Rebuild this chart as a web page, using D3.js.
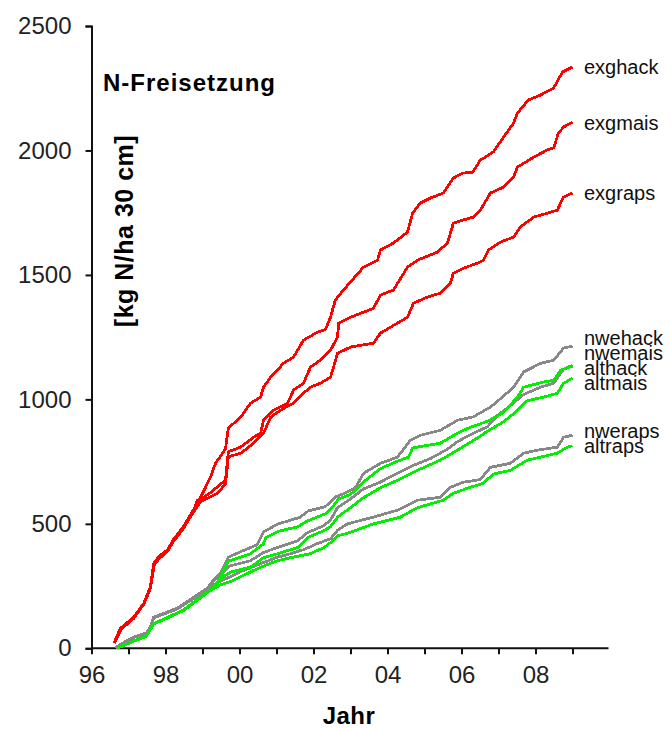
<!DOCTYPE html>
<html><head><meta charset="utf-8">
<script src="https://cdn.jsdelivr.net/npm/d3@7"></script>
<style>
body{margin:0;background:#fff}
text{font-family:"Liberation Sans",Arial,sans-serif}
</style></head>
<body><svg id="c" width="671" height="729"></svg>
<script>
// ---------- data ----------
const xTickYears = [1996,1997,1998,1999,2000,2001,2002,2003,2004,2005,2006,2007,2008,2009];
const xTickLabels = {1996:"96",1998:"98",2000:"00",2002:"02",2004:"04",2006:"06",2008:"08"};
const yTicks = [0,500,1000,1500,2000,2500];
const seriesNames = ["exghack","exgmais","exgraps","nwehack","nwemais","nweraps","althack","altmais","altraps"];

const exghack = [[1996.62,25],[1996.78,80],[1997.14,125],[1997.41,180],[1997.59,245],[1997.68,340],[1997.81,368],[1998.05,395],[1998.22,438],[1998.49,490],[1998.76,558],
 [1998.95,607],[1999.22,688],[1999.35,743],[1999.62,800],[1999.70,885],[2000.03,928],[2000.30,985],[2000.57,1009],[2000.65,1049],[2000.84,1089],[2001.19,1145],[2001.46,1170],[2001.73,1238],[2002.11,1270],[2002.32,1280],[2002.46,1330],[2002.59,1399],[2002.81,1439],[2003.35,1531],[2003.73,1559],[2003.81,1600],[2004.16,1628],[2004.54,1672],[2004.68,1748],[2004.89,1789],[2005.16,1809],[2005.51,1829],[2005.78,1889],[2006.03,1909],[2006.30,1913],[2006.51,1961],[2006.86,1994],[2007.14,2054],[2007.41,2110],[2007.51,2150],[2007.81,2203],[2008.14,2223],[2008.49,2251],[2008.73,2315],[2009.00,2335]];
const exgmais = [[1996.62,22],[1996.80,78],[1997.14,120],[1997.41,176],[1997.59,240],[1997.68,335],[1997.81,360],[1998.05,392],[1998.22,430],[1998.49,482],[1998.76,552],
 [1998.86,595],[1998.95,600],[1999.22,625],[1999.49,660],[1999.62,675],[1999.70,790],[2000.03,808],[2000.38,848],[2000.57,864],[2000.65,916],[2000.92,957],[2001.30,985],[2001.46,1037],[2001.73,1065],[2001.92,1130],[2002.19,1158],[2002.46,1198],[2002.65,1250],[2002.68,1306],[2003.00,1330],[2003.35,1350],[2003.62,1366],[2003.81,1419],[2004.16,1439],[2004.54,1531],[2004.81,1559],[2005.35,1592],[2005.62,1628],[2005.78,1708],[2006.03,1720],[2006.32,1732],[2006.51,1760],[2006.78,1829],[2007.14,1853],[2007.41,1893],[2007.51,1933],[2007.95,1973],[2008.32,2002],[2008.49,2010],[2008.62,2070],[2008.76,2094],[2009.00,2114]];
const exgraps = [[1996.62,20],[1996.80,75],[1997.14,122],[1997.41,178],[1997.59,242],[1997.70,338],[1997.84,362],[1998.05,388],[1998.22,432],[1998.49,485],[1998.76,548],
 [1998.95,590],[1999.41,623],[1999.62,660],[1999.70,770],[2000.03,783],[2000.38,824],[2000.65,864],[2000.84,928],[2001.11,957],[2001.46,985],[2001.73,1025],[2001.92,1049],[2002.19,1065],[2002.46,1089],[2002.65,1185],[2003.00,1210],[2003.62,1226],[2003.81,1266],[2004.08,1290],[2004.54,1330],[2004.70,1386],[2005.08,1411],[2005.43,1427],[2005.70,1467],[2005.78,1507],[2006.05,1527],[2006.43,1547],[2006.59,1559],[2006.73,1600],[2007.05,1632],[2007.41,1652],[2007.59,1692],[2007.95,1732],[2008.32,1748],[2008.59,1760],[2008.68,1789],[2008.76,1813],[2009.00,1829]];

const nwehack = [[1996.65,3],[1996.97,32],[1997.14,45],[1997.48,62],[1997.59,84],[1997.68,125],[1997.95,140],[1998.32,162],[1998.76,205],[1999.14,243],[1999.30,275],[1999.49,301],
 [1999.70,366],[2000.03,388],[2000.48,416],[2000.65,468],[2001.05,500],[2001.63,526],[2001.86,552],[2002.32,569],[2002.59,608],[2002.92,628],[2003.13,645],[2003.36,704],[2003.81,743],[2004.27,768],[2004.62,836],[2004.89,856],[2005.43,876],[2005.89,916],[2006.32,930],[2006.78,969],[2006.97,992],[2007.41,1049],[2007.68,1110],[2008.14,1145],[2008.49,1157],[2008.76,1206],[2009.00,1214]];
const nwemais = [[1996.65,3],[1996.97,30],[1997.14,44],[1997.48,60],[1997.59,82],[1997.68,122],[1997.95,137],[1998.32,158],[1998.76,200],[1999.14,238],[1999.30,270],[1999.49,296],
 [1999.72,330],[2000.30,352],[2000.65,385],[2001.03,405],[2001.57,432],[2001.84,465],[2002.27,492],[2002.46,515],[2002.65,565],[2003.00,600],[2003.35,640],[2003.81,668],[2004.27,703],[2004.70,735],[2005.16,762],[2005.62,800],[2005.89,830],[2006.24,858],[2006.70,890],[2006.97,935],[2007.32,975],[2007.68,1020],[2008.14,1049],[2008.49,1065],[2008.76,1122],[2009.00,1137]];
const nweraps = [[1996.65,3],[1996.97,31],[1997.14,44],[1997.48,61],[1997.59,83],[1997.68,123],[1997.95,138],[1998.32,160],[1998.76,202],
 [1999.14,235],[1999.30,255],[1999.49,270],[1999.76,288],[2000.11,313],[2000.57,340],[2001.03,366],[2001.38,380],[2001.73,396],[2002.11,421],[2002.46,440],[2002.65,474],[2002.92,500],[2003.62,527],[2004.27,555],[2004.81,595],[2005.43,607],[2005.70,647],[2006.05,667],[2006.51,678],[2006.78,727],[2007.32,743],[2007.68,784],[2008.05,796],[2008.59,808],[2008.76,848],[2009.00,856]];

const althack = [[1996.70,0],[1997.14,30],[1997.48,50],[1997.68,100],[1998.00,120],[1998.49,155],[1998.90,200],[1999.30,245],[1999.49,285],
 [1999.70,350],[2000.03,366],[2000.30,380],[2000.65,420],[2000.71,445],[2001.05,470],[2001.57,488],[2001.84,512],[2002.32,540],[2002.46,558],[2002.68,600],[2003.00,618],[2003.35,668],[2003.81,722],[2004.27,752],[2004.57,768],[2004.68,805],[2005.43,824],[2005.89,864],[2006.24,888],[2006.70,912],[2007.14,948],[2007.51,1009],[2007.68,1049],[2008.22,1070],[2008.49,1077],[2008.68,1117],[2009.00,1133]];
const altmais = [[1996.70,0],[1997.14,28],[1997.48,48],[1997.68,98],[1998.00,118],[1998.49,152],[1998.90,197],[1999.30,242],[1999.49,280],
 [1999.76,306],[2000.30,326],[2000.65,364],[2001.03,380],[2001.57,405],[2001.84,445],[2002.27,472],[2002.46,488],[2002.65,527],[2003.00,565],[2003.35,605],[2003.81,645],[2004.27,675],[2004.81,715],[2005.43,756],[2005.89,796],[2006.43,845],[2006.70,872],[2007.14,910],[2007.51,955],[2007.78,995],[2008.22,1009],[2008.59,1025],[2008.76,1065],[2009.00,1085]];
const altraps = [[1996.70,0],[1997.14,29],[1997.48,49],[1997.68,99],[1998.00,119],[1998.49,153],[1998.90,198],
 [1999.14,225],[1999.30,240],[1999.49,255],[1999.76,268],[2000.11,293],[2000.57,326],[2001.03,352],[2001.38,364],[2001.92,380],[2002.27,404],[2002.46,424],[2002.65,452],[2002.92,462],[2003.62,500],[2004.35,527],[2004.81,565],[2005.51,595],[2005.78,623],[2006.24,647],[2006.59,663],[2006.86,700],[2007.32,715],[2007.78,756],[2008.14,768],[2008.59,784],[2008.86,808],[2009.00,814]];

// ---------- layout / style ----------
const seriesData = {exghack, exgmais, exgraps, nwehack, nwemais, nweraps, althack, altmais, altraps};
const colorOf = n => n.startsWith("exg") ? "#ff0000" : n.startsWith("nwe") ? "#888888" : "#00ee00";
const labelNudge = {exghack:0, exgmais:1, exgraps:0, nwehack:-8, nwemais:-12, althack:2, altmais:5, nweraps:-4, altraps:0};

const svg = d3.select("#c");
const x = d3.scaleLinear().domain([1996, 2010]).range([91.5, 609.5]);
const y = d3.scaleLinear().domain([0, 2500]).range([648.3, 26]);

// axes
const xAxis = d3.axisBottom(x).tickValues(xTickYears).tickSize(6).tickPadding(12)
  .tickFormat(d => xTickLabels[d] || "");
const gx = svg.append("g").attr("transform", `translate(0,${y(0)})`).call(xAxis);
gx.select(".domain").attr("d", `M${x(1996)},0H${x(2010) - 1}`);
gx.selectAll("text").attr("font-size", 24).attr("fill", "#222").attr("font-family", "Liberation Sans, Arial, sans-serif");

const yAxis = d3.axisLeft(y).tickValues(yTicks).tickSize(6).tickPadding(14).tickFormat(d3.format("d"));
const gy = svg.append("g").attr("transform", `translate(${x(1996)},0)`).call(yAxis);
gy.selectAll("text").attr("font-size", 24).attr("fill", "#222").attr("font-family", "Liberation Sans, Arial, sans-serif");

svg.selectAll(".domain, .tick line").attr("stroke", "#111").attr("stroke-width", 2);

// lines
const line = d3.line().x(d => x(d[0])).y(d => y(d[1]));
const drawOrder = ["nwehack","nwemais","nweraps","althack","altmais","altraps","exghack","exgmais","exgraps"];
svg.append("g").selectAll("path").data(drawOrder).join("path")
  .attr("d", n => line(seriesData[n]))
  .attr("fill", "none")
  .attr("stroke", n => colorOf(n))
  .attr("stroke-width", 2.8)
  .attr("stroke-linejoin", "round")
  .attr("shape-rendering", "crispEdges");

// end labels
svg.append("g").selectAll("text").data(seriesNames).join("text")
  .attr("x", n => x(seriesData[n][seriesData[n].length - 1][0]) + 11.5)
  .attr("y", n => y(seriesData[n][seriesData[n].length - 1][1]) + labelNudge[n])
  .attr("dy", "0.35em")
  .attr("font-size", 20)
  .attr("fill", "#111")
  .text(n => n);

// titles
svg.append("text").attr("x", 103).attr("y", 91).attr("font-size", 24).attr("font-weight", "bold")
  .attr("letter-spacing", 1).attr("fill", "#000").text("N-Freisetzung");
svg.append("text").attr("transform", "translate(133,231) rotate(-90)").attr("text-anchor", "middle")
  .attr("font-size", 25).attr("font-weight", "bold").attr("letter-spacing", 0.5).attr("fill", "#000")
  .text("[kg N/ha 30 cm]");
svg.append("text").attr("x", 349).attr("y", 724).attr("text-anchor", "middle")
  .attr("font-size", 24).attr("font-weight", "bold").attr("letter-spacing", 0.5).attr("fill", "#000").text("Jahr");
</script></body></html>
